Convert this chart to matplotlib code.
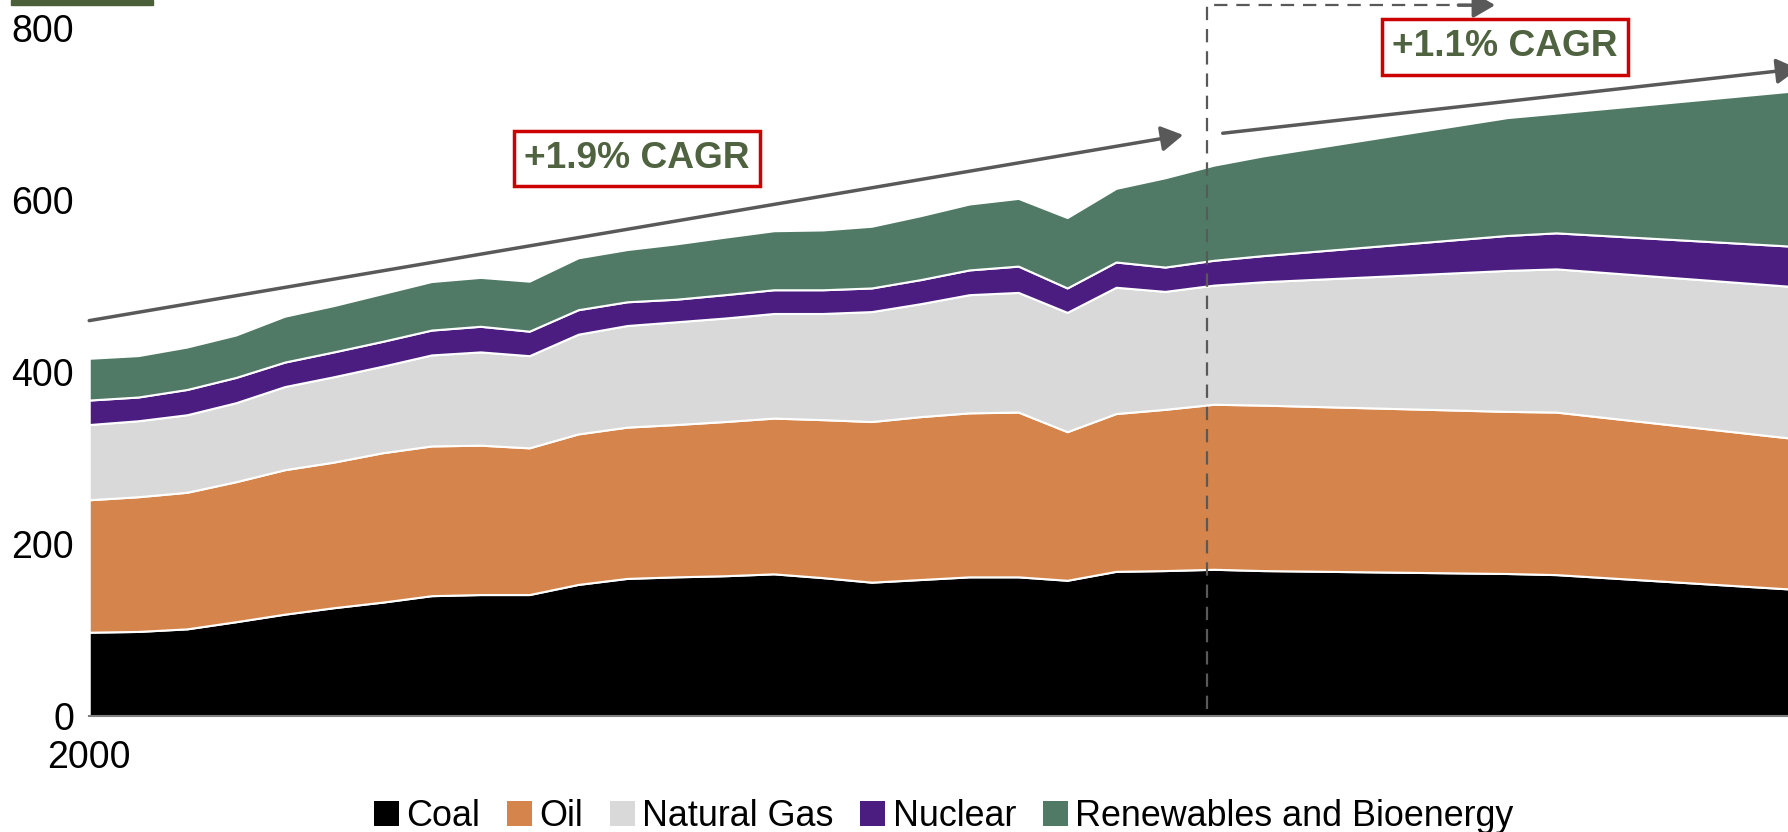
import matplotlib
matplotlib.use('Agg')
import matplotlib.pyplot as plt
from matplotlib.patches import Patch, Rectangle

plt.rcParams['font.family'] = ['Liberation Sans', 'DejaVu Sans']

# years: history 2000-2023, then projection points
years = list(range(2000, 2024)) + [2024, 2029, 2030, 2035]

coal = [97.5, 98.4, 101.4, 109.7, 118.5, 126.0, 132.5, 140.0, 141.3, 141.3,
        153.1, 160.1, 161.9, 163.2, 165.4, 161.0, 155.7, 158.8, 161.9, 161.9,
        157.9, 168.3, 169.2, 170.7, 169.2, 165.8, 164.5, 147.0]
oil = [154.1, 156.7, 158.9, 162.9, 168.1, 169.4, 173.8, 174.2, 173.8, 170.7,
       175.1, 176.0, 177.2, 179.4, 181.2, 183.8, 186.9, 189.5, 190.8, 191.7,
       172.9, 183.6, 187.6, 192.0, 192.5, 188.6, 189.1, 175.0]
gas = [87.5, 88.4, 90.2, 91.9, 96.7, 99.3, 100.7, 105.9, 108.5, 107.2,
       116.0, 118.2, 119.5, 120.4, 121.7, 123.5, 127.9, 131.4, 137.5, 139.2,
       138.8, 146.9, 137.2, 138.6, 143.5, 164.0, 166.6, 177.0]
nuclear = [28.5, 27.6, 29.4, 29.4, 28.5, 28.9, 28.9, 28.9, 29.8, 28.5,
           28.5, 27.6, 26.3, 27.2, 27.6, 27.6, 27.5, 28.0, 28.8, 30.6,
           28.4, 29.4, 28.3, 28.9, 30.4, 40.7, 41.9, 47.0]
renewables = [48.6, 48.2, 49.4, 49.4, 53.4, 53.9, 55.6, 56.5, 56.9, 58.2,
              60.4, 60.8, 64.4, 66.9, 68.7, 69.6, 71.8, 74.4, 76.7, 78.8,
              81.9, 85.7, 103.9, 110.7, 116.0, 137.1, 139.3, 182.0]

labels = ['Coal', 'Oil', 'Natural Gas', 'Nuclear', 'Renewables and Bioenergy']
colors = ['#000000', '#d5854b', '#d9d9d9', '#4b1d80', '#507a66']

cagr_labels = ['+1.9% CAGR', '+1.1% CAGR']
split_year = 2022.85

fig = plt.figure(figsize=(17.88, 8.32), dpi=100)
ax = fig.add_axes([0.0499, 0.1394, 0.9501, 0.8606])

ax.stackplot(years, coal, oil, gas, nuclear, renewables, colors=colors,
             edgecolor='white', linewidth=1.5)

ax.set_xlim(2000, 2034.74)
ax.set_ylim(0, 833)
ax.set_yticks([0, 200, 400, 600, 800])
ax.set_xticks([2000])
ax.tick_params(length=0, labelsize=27)
ax.tick_params(axis='y', pad=11)
ax.tick_params(axis='x', pad=17)
for s in ['top', 'right', 'left']:
    ax.spines[s].set_visible(False)
ax.spines['bottom'].set_color('#808080')
ax.spines['bottom'].set_linewidth(1.5)
ax.spines['bottom'].set_zorder(5)

grey = '#595959'
arrow = dict(arrowstyle='-|>,head_length=0.6,head_width=0.35', color=grey,
             lw=2.5, mutation_scale=22, shrinkA=0, shrinkB=0)
ax.annotate('', xy=(2022.37, 676), xytext=(2000, 460), arrowprops=arrow)
ax.annotate('', xy=(2034.95, 753), xytext=(2023.18, 678), arrowprops=arrow,
            annotation_clip=False)

# dashed split marker
ax.plot([split_year, split_year, 2028.2], [8, 827, 827], color=grey,
        lw=1.6, ls=(0, (6, 4)), clip_on=False, zorder=6)
ax.annotate('', xy=(2028.75, 827), xytext=(2028.0, 827), arrowprops=arrow,
            annotation_clip=False)

box = dict(boxstyle='square,pad=0.28', fc='white', ec='#cc0000', lw=2.5)
ax.text(2011.2, 648.7, cagr_labels[0], ha='center', va='center',
        fontsize=26.7, fontweight='bold', color='#4f6340', bbox=box, zorder=7)
ax.text(2028.95, 778.4, cagr_labels[1], ha='center', va='center',
        fontsize=26.7, fontweight='bold', color='#4f6340', bbox=box, zorder=7)

handles = [Patch(facecolor=c, edgecolor='none') for c in colors]
ax.legend(handles, labels, loc='center', bbox_to_anchor=(0.503, -0.141),
          ncol=5, frameon=False, fontsize=25.8, handlelength=0.7,
          handleheight=0.7, handletextpad=0.2, columnspacing=0.75)

fig.patches.append(Rectangle((0.0064, 0.994), 0.079, 0.006,
                             transform=fig.transFigure, color='#4b5f3b'))

plt.savefig('out.png', dpi=100)
